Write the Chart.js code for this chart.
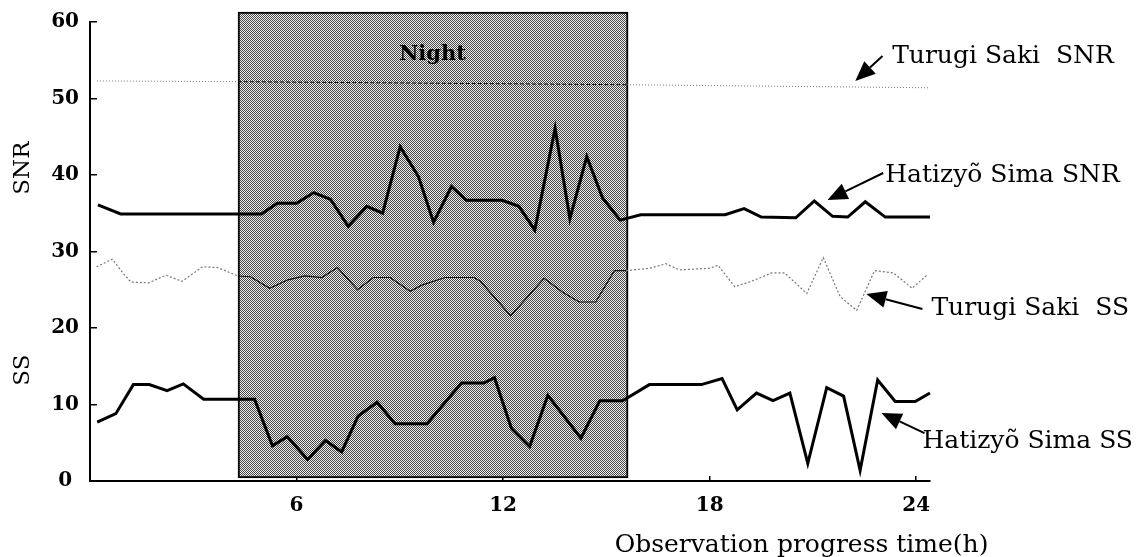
<!DOCTYPE html>
<html><head><meta charset="utf-8">
<script src="https://cdn.jsdelivr.net/npm/chart.js@4/dist/chart.umd.min.js"></script>
<style>html,body{margin:0;padding:0;background:#fff;}#wrap{width:1136px;height:557px;}</style>
</head><body><div id="wrap"><canvas id="c" width="1136" height="557"></canvas></div>
<script>
// ---- data (hours, values) ----
const hsSnrT = [0.23,0.89,4.98,5.44,6.0,6.5,6.99,7.5,8.04,8.5,9.01,9.54,9.98,10.5,10.93,11.97,12.46,12.92,13.51,13.94,14.43,14.89,15.4,16.0,18.45,19.0,19.5,20.5,21.04,21.57,22.01,22.52,23.1,24.4];
const hsSnrV = [36.1,34.9,34.9,36.3,36.3,37.7,36.8,33.3,35.9,35.0,43.7,39.8,33.8,38.5,36.7,36.7,35.9,32.8,46.1,34.3,42.4,37.0,34.1,34.8,34.8,35.6,34.5,34.4,36.6,34.6,34.5,36.5,34.5,34.5];
const hsSsT = [0.21,0.75,1.26,1.72,2.24,2.71,3.30,4.78,5.30,5.73,6.32,6.84,7.31,7.79,8.34,8.86,9.79,10.79,11.44,11.75,12.24,12.77,13.3,14.26,14.81,15.47,16.25,17.76,18.36,18.8,19.36,19.84,20.33,20.85,21.4,21.89,22.37,22.88,23.39,23.97,24.4];
const hsSsV = [7.7,8.8,12.6,12.6,11.8,12.7,10.7,10.7,4.6,5.8,2.8,5.3,3.8,8.5,10.3,7.5,7.5,12.8,12.8,13.5,6.9,4.5,11.2,5.6,10.5,10.5,12.6,12.6,13.4,9.3,11.5,10.5,11.5,2.3,12.2,11.1,1.4,13.2,10.4,10.4,11.5];
const tsSsT = [0.19,0.65,0.97,1.19,1.7,2.21,2.67,3.27,3.71,4.3,4.66,5.22,5.75,6.24,6.73,7.19,7.77,8.23,8.72,9.3,9.64,10.32,11.15,11.34,12.22,13.19,13.72,14.21,14.69,15.23,15.57,16.25,16.73,17.12,18.0,18.24,18.73,19.21,19.8,20.18,20.82,21.3,21.79,22.27,22.79,23.34,23.88,24.31];
const tsSsV = [28.0,29.0,27.1,26.0,25.9,26.9,26.1,28.0,27.9,26.8,26.7,25.2,26.3,26.8,26.6,27.9,25.0,26.6,26.6,24.8,25.6,26.6,26.6,26.1,21.6,26.5,24.7,23.4,23.4,27.5,27.5,27.8,28.4,27.6,27.8,28.2,25.4,26.1,27.2,27.2,24.5,29.2,24.1,22.3,27.5,27.2,25.2,26.9];
const tsSnrT = [0.2,4.3,15.6,24.4];
const tsSnrV = [52.3,52.2,51.8,51.4];
const nightStart = 4.3, nightEnd = 15.63, nightBottom = 0.4, nightTop = 61.3;
const xTicks = [6,12,18,24];
const yTicks = [0,10,20,30,40,50,60];
const seriesNames = ['Hatizyõ Sima SNR','Hatizyõ Sima SS','Turugi Saki  SS','Turugi Saki  SNR'];
const nightLabel = 'Night';
const xTitle = 'Observation progress time(h)';

const zip = (t,v) => t.map((x,i)=>({x:x,y:v[i]}));

// annotation placement (in data units)
const notes = [
  {text:seriesNames[3], tx:23.3, ty:54.68, ax:23.02, ay:55.56, bx:22.23, by:52.29},
  {text:seriesNames[0], tx:23.1, ty:39.12, ax:23.04, ay:40.26, bx:21.42, by:36.73},
  {text:seriesNames[2], tx:24.44, ty:21.7, ax:24.18, ay:22.48, bx:22.55, by:24.44},
  {text:seriesNames[1], tx:24.18, ty:4.27, ax:24.24, ay:6.27, bx:22.99, by:8.89}
];

const cv = document.getElementById('c');
const ctx0 = cv.getContext('2d');
const pc = document.createElement('canvas'); pc.width = 2; pc.height = 2;
const pctx = pc.getContext('2d');
pctx.fillStyle = '#eeeeee'; pctx.fillRect(0,0,2,2);
pctx.fillStyle = '#484848'; pctx.fillRect(0,0,1,1); pctx.fillRect(1,1,1,1);
const stipple = ctx0.createPattern(pc,'repeat');

const inNight = c => c.p0.parsed.x >= nightStart - 0.05 && c.p1.parsed.x <= nightEnd + 0.05;

const annot = {
  id:'annot',
  afterDraw(chart){
    const {ctx, scales:{x, y}} = chart;
    ctx.save();
    ctx.fillStyle = '#000'; ctx.strokeStyle = '#000';
    ctx.font = 'bold 21px "DejaVu Serif"';
    ctx.textAlign = 'center'; ctx.textBaseline = 'alphabetic';
    ctx.fillText(nightLabel, x.getPixelForValue(9.95), y.getPixelForValue(55.03));
    ctx.font = '25px "DejaVu Serif"';
    ctx.textAlign = 'left';
    notes.forEach(n => {
      ctx.fillText(n.text, x.getPixelForValue(n.tx), y.getPixelForValue(n.ty));
      const x0 = x.getPixelForValue(n.ax), y0 = y.getPixelForValue(n.ay);
      const x1 = x.getPixelForValue(n.bx), y1 = y.getPixelForValue(n.by);
      const ang = Math.atan2(y1-y0, x1-x0);
      const hl = 20, hw = 8.5;
      const bxp = x1 - hl*Math.cos(ang), byp = y1 - hl*Math.sin(ang);
      ctx.lineWidth = 2;
      ctx.beginPath(); ctx.moveTo(x0,y0); ctx.lineTo(bxp,byp); ctx.stroke();
      ctx.beginPath();
      ctx.moveTo(x1,y1);
      ctx.lineTo(bxp + hw*Math.sin(ang), byp - hw*Math.cos(ang));
      ctx.lineTo(bxp - hw*Math.sin(ang), byp + hw*Math.cos(ang));
      ctx.closePath(); ctx.fill();
    });
    // axis titles
    ctx.font = '23px "DejaVu Serif"';
    ctx.textAlign = 'center'; ctx.textBaseline = 'middle';
    [['SNR',40.9],['SS',14.5]].forEach(([t,v]) => {
      ctx.save();
      ctx.translate(23, y.getPixelForValue(v));
      ctx.rotate(-Math.PI/2);
      ctx.fillText(t,0,0);
      ctx.restore();
    });
    ctx.font = '25px "DejaVu Serif"';
    ctx.textAlign = 'left'; ctx.textBaseline = 'alphabetic';
    ctx.fillText(xTitle, x.getPixelForValue(15.24), chart.height - 5);
    ctx.restore();
  }
};

new Chart(cv, {
  type:'line',
  data:{
    datasets:[
      {label:seriesNames[0], data:zip(hsSnrT,hsSnrV), borderColor:'#000', borderWidth:3, pointRadius:0, fill:false, tension:0, order:1, clip:false},
      {label:seriesNames[1], data:zip(hsSsT,hsSsV), borderColor:'#000', borderWidth:3, pointRadius:0, fill:false, tension:0, order:1, clip:false},
      {label:seriesNames[2], data:zip(tsSsT,tsSsV), borderColor:'#666', borderWidth:1.2, pointRadius:0, fill:false, tension:0, order:2, clip:false,
        segment:{borderDash: c => inNight(c) ? [] : [2,2], borderColor: c => inNight(c) ? '#111' : '#777'}},
      {label:seriesNames[3], data:zip(tsSnrT,tsSnrV), borderColor:'#666', borderWidth:1, pointRadius:0, fill:false, tension:0, order:2, clip:false,
        segment:{borderDash: c => inNight(c) ? [4,2] : [1,2], borderColor: c => inNight(c) ? '#111' : '#777'}},
      {type:'bar', label:nightLabel, data:[{x:(nightStart+nightEnd)/2, y:[nightBottom,nightTop]}],
        backgroundColor:stipple, borderColor:'#000', borderWidth:2, borderSkipped:false, clip:false, order:10,
        barThickness: c => { const s = c.chart.scales.x; return s ? s.getPixelForValue(nightEnd) - s.getPixelForValue(nightStart) : 10; }}
    ]
  },
  options:{
    responsive:false, devicePixelRatio:1, animation:false,
    layout:{padding:{left:0, right:206, top:22, bottom:0}},
    plugins:{legend:{display:false}, tooltip:{enabled:false}},
    scales:{
      x:{type:'linear', min:0, max:24.4, offset:false,
        afterBuildTicks: s => { s.ticks = xTicks.map(v=>({value:v})); },
        afterFit: s => { s.height = 76; s.paddingLeft = 0; s.paddingRight = 0; },
        grid:{offset:false, drawOnChartArea:false, drawTicks:true, tickLength:-5, color:'#000', lineWidth:1.5},
        border:{display:true, color:'#000', width:2},
        ticks:{color:'#000', padding:18, font:{family:'"DejaVu Serif"', size:20, weight:'bold'}, maxRotation:0}
      },
      y:{type:'linear', min:0, max:60,
        afterBuildTicks: s => { s.ticks = yTicks.map(v=>({value:v})); },
        afterFit: s => { s.width = 90; s.paddingTop = 0; s.paddingBottom = 0; },
        grid:{drawOnChartArea:false, drawTicks:true, tickLength:-7, color:'#000', lineWidth:1.5},
        border:{display:true, color:'#000', width:2},
        ticks:{color:'#000', padding:18, crossAlign:'center', font:{family:'"DejaVu Serif"', size:20, weight:'bold'}}
      }
    }
  },
  plugins:[annot]
});
</script></body></html>
